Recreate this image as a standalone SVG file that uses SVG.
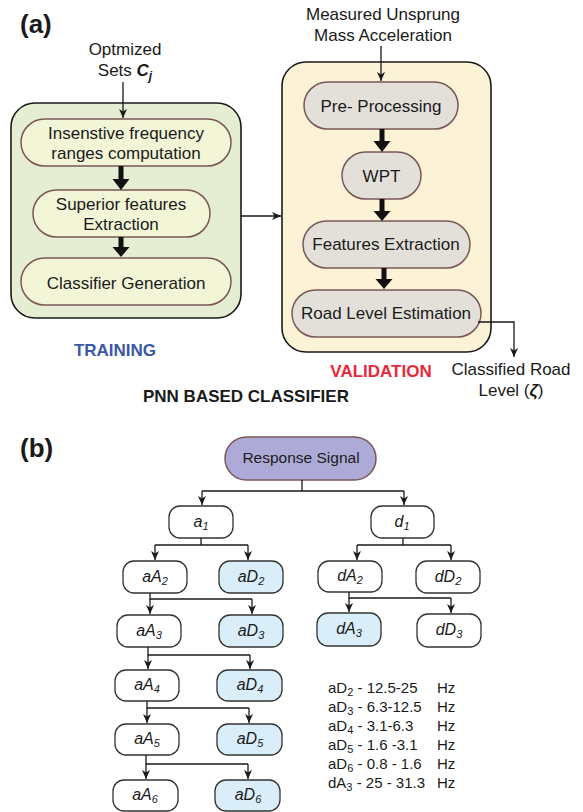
<svg xmlns="http://www.w3.org/2000/svg" width="583" height="812" viewBox="0 0 583 812">
<style>
text{font-family:"Liberation Sans",Arial,sans-serif;fill:#1a1a1a}
.t17{font-size:17px}
.mid{text-anchor:middle}
.bold{font-weight:bold}
.outer{stroke:#1a1a1a;stroke-width:1.6}
.pillA{fill:#f2f5d6;stroke:#7a5858;stroke-width:1.5}
.pillV{fill:#e3e0da;stroke:#7a5858;stroke-width:1.5}
.bx{fill:#fff;stroke:#333;stroke-width:1.3}
.bxb{fill:#d9eef9;stroke:#333;stroke-width:1.3}
.it{font-style:italic;font-size:16px;text-anchor:middle}
.sub{font-size:11px}
.ln{fill:none;stroke:#1a1a1a;stroke-width:1.3}
.thick{fill:#111}
.fq{font-size:15px}
</style>
<defs>
<marker id="ah" markerUnits="userSpaceOnUse" markerWidth="10" markerHeight="10" refX="9" refY="4" orient="auto">
<path d="M0,0 L9,4 L0,8 L2.5,4 z" fill="#1a1a1a"/>
</marker>
</defs>

<!-- Part (a) -->
<text x="20" y="33" class="bold" font-size="26">(a)</text>

<g id="input-a">
<text x="125" y="55" class="t17 mid">Optmized</text>
<text x="125" y="76" class="t17 mid">Sets <tspan font-weight="bold" font-style="italic">C</tspan><tspan font-weight="bold" font-style="italic" font-size="12" dy="4">j</tspan></text>
</g>

<g id="training">
<rect x="11" y="103" width="230" height="215" rx="24" fill="#e5edd2" class="outer"/>
<text x="115" y="356" class="t17 mid bold" style="fill:#3b57a8">TRAINING</text>
</g>
<g id="insensitive">
<rect x="21" y="119" width="210" height="47" rx="23.5" class="pillA"/>
<text x="126" y="139" class="t17 mid">Insenstive frequency</text>
<text x="126" y="159" class="t17 mid">ranges computation</text>
</g>
<g id="superior">
<rect x="33" y="190" width="177" height="47" rx="23.5" class="pillA"/>
<text x="121" y="210" class="t17 mid">Superior features</text>
<text x="121" y="230" class="t17 mid">Extraction</text>
</g>
<g id="classifier-gen">
<rect x="21" y="258" width="210" height="47" rx="23.5" class="pillA"/>
<text x="126" y="289" class="t17 mid">Classifier Generation</text>
</g>

<text x="143" y="402" class="t17 bold">PNN BASED CLASSIFIER</text>

<g id="input-v">
<text x="383" y="20" class="t17 mid">Measured Unsprung</text>
<text x="383" y="41" class="t17 mid">Mass Acceleration</text>
</g>
<g id="validation">
<rect x="282" y="62" width="209" height="290" rx="24" fill="#fcf3d6" class="outer"/>
<text x="381" y="377" class="t17 mid bold" style="fill:#e8283a">VALIDATION</text>
</g>
<g id="preprocessing">
<rect x="304" y="82" width="154" height="47" rx="23.5" class="pillV"/>
<text x="381" y="112" class="t17 mid">Pre- Processing</text>
</g>
<g id="wpt">
<rect x="342" y="152" width="79" height="47" rx="23.5" class="pillV"/>
<text x="381.5" y="182" class="t17 mid">WPT</text>
</g>
<g id="features">
<rect x="303" y="221" width="167" height="47" rx="23.5" class="pillV"/>
<text x="386" y="250" class="t17 mid">Features Extraction</text>
</g>
<g id="road-level">
<rect x="292" y="290" width="189" height="47" rx="23.5" class="pillV"/>
<text x="386" y="319" class="t17 mid">Road Level Estimation</text>
</g>
<g id="output">
<text x="511" y="375" class="t17 mid">Classified Road</text>
<text x="511" y="396" class="t17 mid">Level (<tspan font-weight="bold" font-style="italic">ζ</tspan>)</text>
</g>

<g id="connectors-a">
<path class="ln" d="M123,82 V118" marker-end="url(#ah)"/>
<path class="ln" d="M381,46 V81" marker-end="url(#ah)"/>
<path class="ln" d="M241,216 H281" marker-end="url(#ah)"/>
<path class="ln" d="M478,322 H514 V357" marker-end="url(#ah)"/>
<path class="thick" d="M118.5,166 h5 v13 h6 l-8.5,11 l-8.5,-11 h6 z"/>
<path class="thick" d="M118.5,237 h5 v10 h6 l-8.5,10 l-8.5,-10 h6 z"/>
<path class="thick" d="M379.5,129 h5 v12 h6 l-8.5,11 l-8.5,-11 h6 z"/>
<path class="thick" d="M379.5,199 h5 v12 h6 l-8.5,10 l-8.5,-10 h6 z"/>
<path class="thick" d="M381.5,268 h5 v11 h6 l-8.5,10 l-8.5,-10 h6 z"/>
</g>

<!-- Part (b) -->
<text x="20" y="457" class="bold" font-size="26">(b)</text>

<g id="response">
<rect x="225" y="437" width="151" height="43" rx="21.5" fill="#aeaad8" stroke="#7a5858" stroke-width="1.5"/>
<text x="301" y="463" class="mid" font-size="15.5">Response Signal</text>
</g>

<g id="a1"><rect x="169" y="506" width="64" height="32" rx="11" class="bx"/><text x="201" y="527" class="it">a<tspan class="sub" dy="3">1</tspan></text></g>
<g id="d1"><rect x="371" y="506" width="63" height="32" rx="11" class="bx"/><text x="402" y="527" class="it">d<tspan class="sub" dy="3">1</tspan></text></g>
<g id="aA2"><rect x="123" y="561" width="64" height="32" rx="11" class="bx"/><text x="155" y="582" class="it">aA<tspan class="sub" dy="3">2</tspan></text></g>
<g id="aD2"><rect x="219" y="561" width="64" height="32" rx="11" class="bxb"/><text x="251" y="582" class="it">aD<tspan class="sub" dy="3">2</tspan></text></g>
<g id="aA3"><rect x="117" y="615" width="64" height="32" rx="11" class="bx"/><text x="149" y="636" class="it">aA<tspan class="sub" dy="3">3</tspan></text></g>
<g id="aD3"><rect x="219" y="615" width="64" height="32" rx="11" class="bxb"/><text x="251" y="636" class="it">aD<tspan class="sub" dy="3">3</tspan></text></g>
<g id="aA4"><rect x="115" y="670" width="64" height="31" rx="11" class="bx"/><text x="147" y="690" class="it">aA<tspan class="sub" dy="3">4</tspan></text></g>
<g id="aD4"><rect x="217" y="670" width="65" height="31" rx="11" class="bxb"/><text x="250" y="690" class="it">aD<tspan class="sub" dy="3">4</tspan></text></g>
<g id="aA5"><rect x="115" y="724" width="64" height="31" rx="11" class="bx"/><text x="147" y="744" class="it">aA<tspan class="sub" dy="3">5</tspan></text></g>
<g id="aD5"><rect x="217" y="724" width="65" height="31" rx="11" class="bxb"/><text x="250" y="744" class="it">aD<tspan class="sub" dy="3">5</tspan></text></g>
<g id="aA6"><rect x="113" y="780" width="65" height="31" rx="11" class="bx"/><text x="145" y="800" class="it">aA<tspan class="sub" dy="3">6</tspan></text></g>
<g id="aD6"><rect x="215" y="780" width="65" height="31" rx="11" class="bxb"/><text x="248" y="800" class="it">aD<tspan class="sub" dy="3">6</tspan></text></g>
<g id="dA2"><rect x="318" y="561" width="64" height="31" rx="11" class="bx"/><text x="350" y="581" class="it">dA<tspan class="sub" dy="3">2</tspan></text></g>
<g id="dD2"><rect x="416" y="561" width="64" height="32" rx="11" class="bx"/><text x="448" y="582" class="it">dD<tspan class="sub" dy="3">2</tspan></text></g>
<g id="dA3"><rect x="317" y="613" width="64" height="33" rx="11" class="bxb"/><text x="349" y="634" class="it">dA<tspan class="sub" dy="3">3</tspan></text></g>
<g id="dD3"><rect x="417" y="614" width="64" height="33" rx="11" class="bx"/><text x="449" y="635" class="it">dD<tspan class="sub" dy="3">3</tspan></text></g>

<g id="connectors-b">
<path class="ln" d="M302,480 V491 M202,491 H404"/>
<path class="ln" d="M202,491 V505" marker-end="url(#ah)"/>
<path class="ln" d="M404,491 V505" marker-end="url(#ah)"/>
<path class="ln" d="M201,538 V545 M155,545 H248"/>
<path class="ln" d="M155,545 V560" marker-end="url(#ah)"/>
<path class="ln" d="M248,545 V560" marker-end="url(#ah)"/>
<path class="ln" d="M150,593 V599 H252"/>
<path class="ln" d="M150,599 V614" marker-end="url(#ah)"/>
<path class="ln" d="M252,599 V614" marker-end="url(#ah)"/>
<path class="ln" d="M148,647 V655 H250"/>
<path class="ln" d="M148,655 V669" marker-end="url(#ah)"/>
<path class="ln" d="M250,655 V669" marker-end="url(#ah)"/>
<path class="ln" d="M147,701 V708 H249"/>
<path class="ln" d="M147,708 V723" marker-end="url(#ah)"/>
<path class="ln" d="M249,708 V723" marker-end="url(#ah)"/>
<path class="ln" d="M146,755 V764 H248"/>
<path class="ln" d="M146,764 V779" marker-end="url(#ah)"/>
<path class="ln" d="M248,764 V779" marker-end="url(#ah)"/>
<path class="ln" d="M403,538 V545 M357,545 H451"/>
<path class="ln" d="M357,545 V560" marker-end="url(#ah)"/>
<path class="ln" d="M451,545 V560" marker-end="url(#ah)"/>
<path class="ln" d="M349,592 V598 H451"/>
<path class="ln" d="M349,598 V612" marker-end="url(#ah)"/>
<path class="ln" d="M451,598 V613" marker-end="url(#ah)"/>
</g>

<g id="freq-list">
<text x="328" y="693" class="fq">aD<tspan class="sub" dy="3">2</tspan><tspan dy="-3"> - 12.5-25</tspan></text>
<text x="328" y="712" class="fq">aD<tspan class="sub" dy="3">3</tspan><tspan dy="-3"> - 6.3-12.5</tspan></text>
<text x="328" y="731" class="fq">aD<tspan class="sub" dy="3">4</tspan><tspan dy="-3"> - 3.1-6.3</tspan></text>
<text x="328" y="750" class="fq">aD<tspan class="sub" dy="3">5</tspan><tspan dy="-3"> - 1.6 -3.1</tspan></text>
<text x="328" y="769" class="fq">aD<tspan class="sub" dy="3">6</tspan><tspan dy="-3"> - 0.8 - 1.6</tspan></text>
<text x="328" y="788" class="fq">dA<tspan class="sub" dy="3">3</tspan><tspan dy="-3"> - 25 - 31.3</tspan></text>
<text x="437" y="693" class="fq">Hz</text>
<text x="437" y="712" class="fq">Hz</text>
<text x="437" y="731" class="fq">Hz</text>
<text x="437" y="750" class="fq">Hz</text>
<text x="437" y="769" class="fq">Hz</text>
<text x="437" y="788" class="fq">Hz</text>
</g>
</svg>
